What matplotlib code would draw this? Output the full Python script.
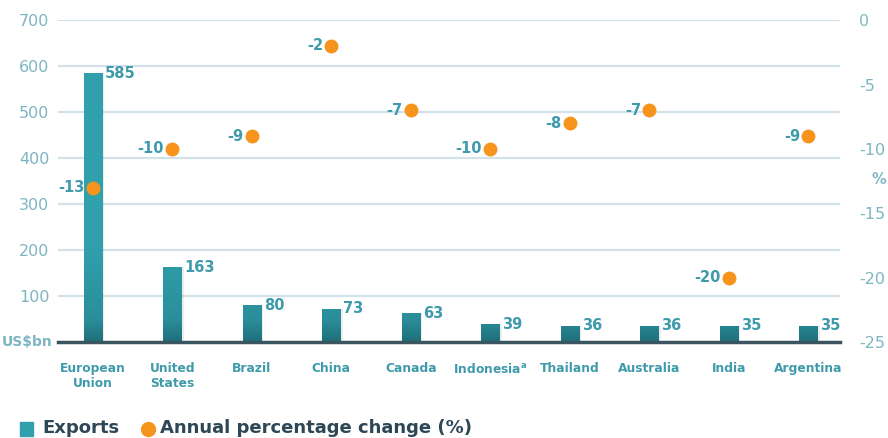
import numpy as np
import matplotlib.pyplot as plt
from matplotlib.patches import Rectangle

# data
countries = ['European\nUnion', 'United\nStates', 'Brazil', 'China', 'Canada',
             'Indonesia$^{\\mathbf{a}}$', 'Thailand', 'Australia', 'India', 'Argentina']
exports = [585, 163, 80, 73, 63, 39, 36, 36, 35, 35]
pct_change = [-13, -10, -9, -2, -7, -10, -8, -7, -20, -9]
left_ticks = [100, 200, 300, 400, 500, 600, 700]
right_ticks = [0, -5, -10, -15, -20, -25]

teal = '#31a0ad'
orange = '#f7941d'
tick_col = '#7db5c4'
lab_col = '#3f9bab'
grid_col = '#d3e2e8'

fig = plt.figure(figsize=(8.88, 4.38), dpi=100)
ax = fig.add_axes([0.065, 0.219, 0.881, 0.735])
ax2 = ax.twinx()

x = np.arange(len(countries))
w = 0.23

for v in left_ticks:
    ax.axhline(v, color=grid_col, lw=1.6, zorder=0)

# bars, a little darker towards the base (gradient fixed in data units)
grad = np.linspace(0, 1, 256).reshape(-1, 1)
cmap = plt.matplotlib.colors.LinearSegmentedColormap.from_list(
    'g', [(0, '#1f6f7a'), (0.07, '#2a8f9b'), (0.3, teal), (1, teal)])
bars = ax.bar(x, exports, width=w, color=teal, zorder=2)
for b, xi, v in zip(bars, x, exports):
    shadow = Rectangle((xi - w / 2 + 0.03, 0), w, v, color='#000000', alpha=0.07, zorder=1, lw=0)
    ax.add_patch(shadow)
    im = ax.imshow(grad, extent=[xi - w / 2, xi + w / 2, 0, 700], origin='lower',
                   cmap=cmap, aspect='auto', zorder=2.5)
    im.set_clip_path(b)
    ax.annotate(str(v), (xi + w / 2, v), xytext=(2, 0), textcoords='offset points',
                ha='left', va='center', color=lab_col, fontsize=10.5, fontweight='bold',
                zorder=4)

ax.set_xlim(-0.44, 9.4)
ax.set_ylim(0, 700)
ax2.set_ylim(-25, 0)

ax2.plot(x, pct_change, 'o', color=orange, ms=9, zorder=5, ls='none')
for xi, p in zip(x, pct_change):
    ax2.annotate(str(p), (xi, p), xytext=(-6, 0), textcoords='offset points',
                 ha='right', va='center', color=lab_col, fontsize=10.5, fontweight='bold')

for a in (ax, ax2):
    for s in ['top', 'left', 'right', 'bottom']:
        a.spines[s].set_visible(False)
ax.axhline(0, color='#3b5560', lw=2.5, zorder=3, clip_on=False)

ax.set_yticks(left_ticks)
ax.set_yticklabels([str(t) for t in left_ticks])
ax.tick_params(axis='y', length=0, labelcolor=tick_col, labelsize=11.5, pad=6)
ax.text(-0.007, 0, 'US\\$bn', transform=ax.get_yaxis_transform(), ha='right', va='center',
        color=tick_col, fontsize=10, fontweight='bold')

ax2.set_yticks(right_ticks)
ax2.set_yticklabels([str(t) for t in right_ticks])
ax2.tick_params(axis='y', length=0, labelcolor=tick_col, labelsize=11.5, pad=14)
ax2.text(1.05, -12.4, '%', transform=ax2.get_yaxis_transform(), ha='center', va='center',
         color=tick_col, fontsize=10.5, fontweight='bold')

ax.set_xticks(x)
ax.set_xticklabels(countries, color=lab_col, fontsize=8.8, fontweight='bold', linespacing=1.25)
ax.tick_params(axis='x', length=0, pad=14)

# legend along the bottom
fig.patches.append(Rectangle((20 / 888, 0.004), 13 / 888, 14 / 438, transform=fig.transFigure,
                             color=teal, figure=fig))
fig.text(42 / 888, 0.002, 'Exports', ha='left', va='bottom', fontsize=13, fontweight='bold',
         color='#2e4756')
fig.lines.append(plt.Line2D([148 / 888], [0.02], marker='o', color=orange, ms=10,
                            transform=fig.transFigure, figure=fig))
fig.text(160 / 888, 0.002, 'Annual percentage change (%)', ha='left', va='bottom', fontsize=13,
         fontweight='bold', color='#2e4756')

fig.savefig('out.png', dpi=100)
